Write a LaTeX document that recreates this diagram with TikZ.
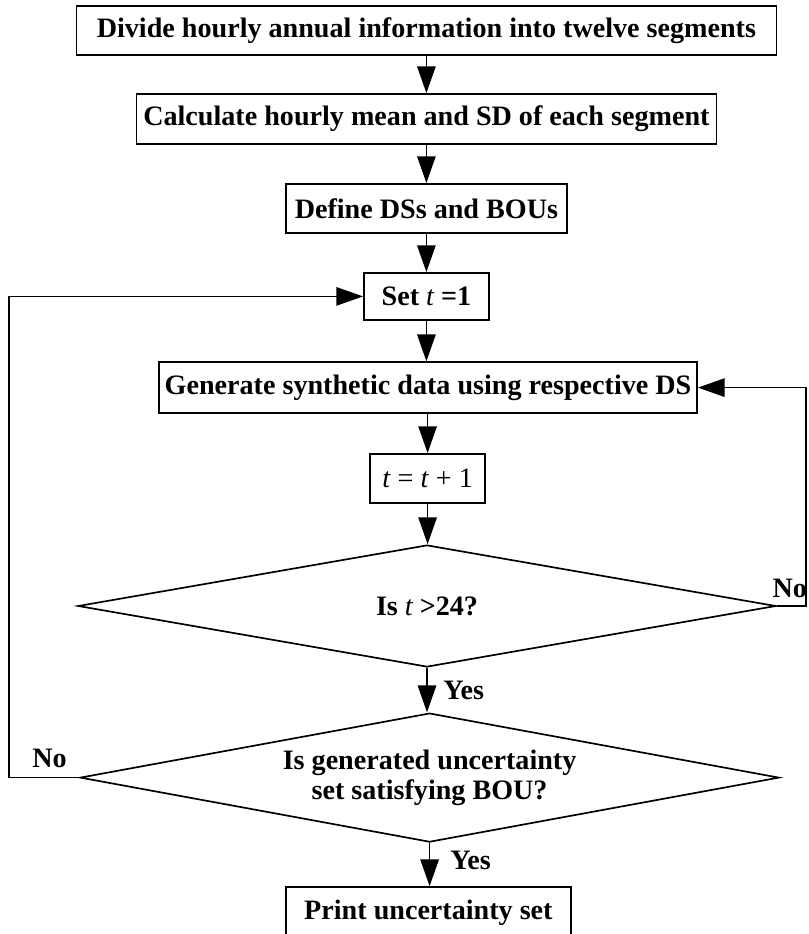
\documentclass[tikz,border=0pt]{standalone}
\usepackage{fontspec}
\setmainfont{Liberation Serif}
\usetikzlibrary{shapes.geometric,arrows.meta}

\begin{document}
\begin{tikzpicture}[
  font=\fontsize{20}{21}\selectfont\bfseries,
  stepbox/.style={draw, line width=1.2pt, inner sep=0pt, minimum height=1.225cm},
  decision/.style={draw, diamond, line width=1.2pt, inner sep=0pt, aspect=5.5, align=center},
  arr/.style={line width=1.2pt, -{Triangle[length=0.67cm, width=0.46cm]}},
  lbl/.style={inner sep=0pt}
]
\useasboundingbox (0,0) rectangle (20.2,-23.35);
% process boxes
\node[stepbox, minimum width=17.5cm] (divide) at (10.66,-0.76) {Divide hourly annual information into twelve segments};
\node[stepbox, minimum width=14.5cm, minimum height=1.25cm] (calc) at (10.66,-2.975) {Calculate hourly mean and SD of each segment};
\node[stepbox, minimum width=7.025cm] (define) at (10.66,-5.21) {Define DSs and BOUs};
\node[stepbox, minimum width=3.125cm, minimum height=1.175cm] (set) at (10.66,-7.41) {Set {\mdseries\itshape t} =1};
\node[stepbox, minimum width=13.45cm, minimum height=1.275cm] (gen) at (10.7,-9.69) {Generate synthetic data using respective DS};
\node[stepbox, minimum width=2.875cm] (incr) at (10.69,-11.96) {\mdseries\itshape t\/\upshape\ = \itshape t\/\upshape\ + 1};
% decisions
\node[decision, minimum width=17.45cm, minimum height=3.05cm] (isday) at (10.675,-15.15) {Is {\mdseries\itshape t} >24?};
\node[decision, minimum width=17.475cm, minimum height=3.225cm] (isbou) at (10.74,-19.44) {Is generated uncertainty\\set satisfying BOU?};
\node[stepbox, minimum width=7.125cm, minimum height=1.3cm] (print) at (10.71,-22.825) {Print uncertainty set};
% loop rails
\coordinate (rrail) at (20.15,0);
\coordinate (lrail) at (0.225,0);
% main flow
\draw[arr] (divide) -- (calc);
\draw[arr] (calc) -- (define);
\draw[arr] (define) -- (set);
\draw[arr] (set) -- (set |- gen.north);
\draw[arr] (gen) -- (gen.south -| incr) -- (incr);
\draw[arr] (incr) -- (incr |- isday.north);
\draw[arr] (isday.south) -- (isday.south |- isbou.north);
\draw[arr] (isbou.south) -- (isbou.south |- print.north);
% loops back
\draw[arr] (isday.east) -- (isday.east -| rrail) |- (gen.east);
\draw[arr] (isbou.west) -- (isbou.west -| lrail) |- (set.west);
% labels
\node[lbl, anchor=south east] (nohour) at ([yshift=0.2cm]isday.east -| 20.18,0) {No};
\node[lbl, anchor=west] (yeshour) at (11.08,-17.25) {Yes};
\node[lbl, anchor=south west] (nobou) at (0.8,-19.2) {No};
\node[lbl, anchor=west] (yesbou) at (11.25,-21.5) {Yes};
\end{tikzpicture}
\end{document}
